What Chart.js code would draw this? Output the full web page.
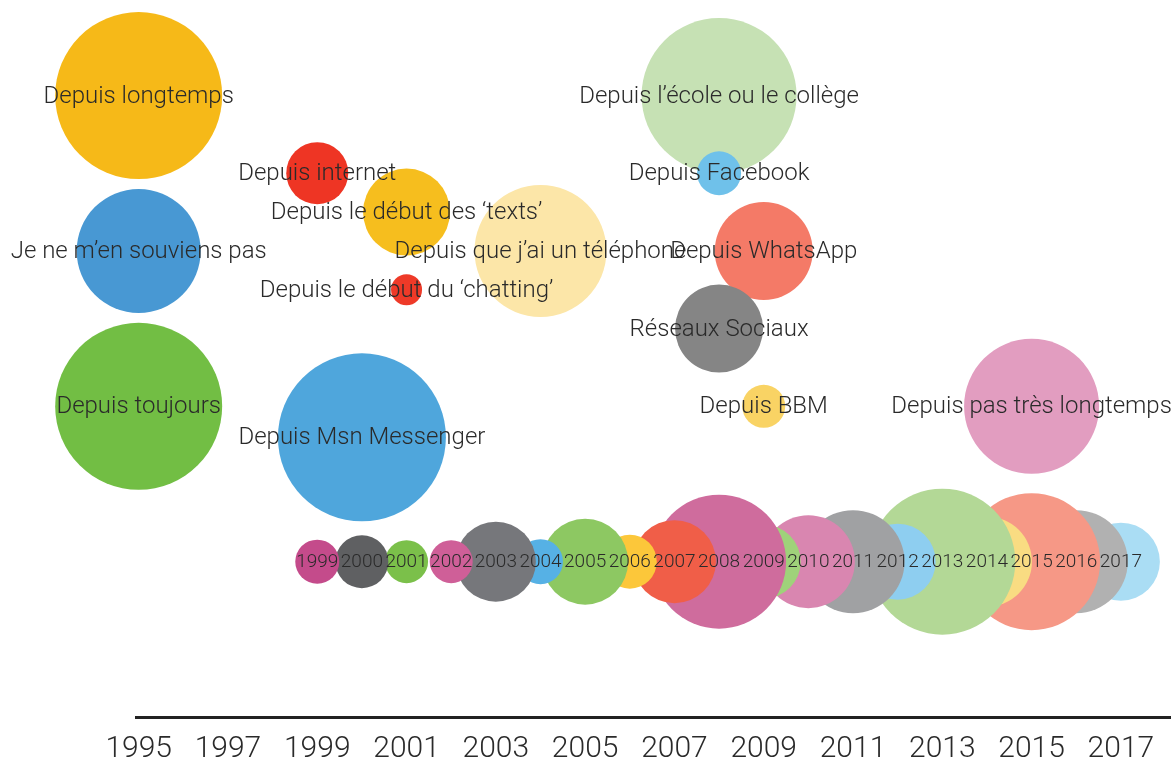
<!DOCTYPE html>
<html>
<head>
<meta charset="utf-8">
<script src="https://cdn.jsdelivr.net/npm/chart.js@4"></script>
<style>
  html, body { margin: 0; padding: 0; background: #fff; }
  #wrap { width: 1176px; height: 767px; }
</style>
</head>
<body>
<div id="wrap"><canvas id="bubbleChart"></canvas></div>
<script>
// axis ticks
let tickYears = [1995, 1997, 1999, 2001, 2003, 2005, 2007, 2009, 2011, 2013, 2015, 2017];

// row of year bubbles
let years = [1999, 2000, 2001, 2002, 2003, 2004, 2005, 2006, 2007, 2008, 2009, 2010, 2011, 2012, 2013, 2014, 2015, 2016, 2017];
let yearSizes = [22, 26.5, 21.5, 21.5, 40, 22.5, 43, 27, 41.5, 67, 37, 46.5, 51.5, 38, 73, 45, 68.5, 51.5, 39];
let yearRow = 2;

// answers ("depuis quand ?")
let answers = [
    'Depuis longtemps', 'Je ne m’en souviens pas', 'Depuis toujours',
    'Depuis internet', 'Depuis le début des ‘texts’', 'Depuis le début du ‘chatting’',
    'Depuis que j’ai un téléphone', 'Depuis Msn Messenger',
    'Depuis l’école ou le collège', 'Depuis Facebook', 'Depuis WhatsApp',
    'Réseaux Sociaux', 'Depuis BBM', 'Depuis pas très longtemps'
];
let answerYears = [1995, 1995, 1995, 1999, 2001, 2001, 2004, 2000, 2008, 2008, 2009, 2008, 2009, 2015];
let answerLevels = [8, 6, 4, 7, 6.5, 5.5, 6, 3.6, 8, 7, 6, 5, 4, 4];
let answerSizes = [83.5, 62, 83.5, 31, 43.5, 15.5, 66, 84, 77.5, 22, 49, 44, 21.5, 67.5];

// colours
let answerColors = [
    '#F6B918', '#4898D3', '#72BE44', '#EE3524', '#F6BE1E', '#EE3A28', '#FCE6A8',
    '#4FA6DC', '#C6E1B4', '#6FC1EA', '#F47A67', '#858585', '#F9D364', '#E29DC0'
];
let yearColors = [
    '#C44B8B', '#5F6062', '#7BC04A', '#CF5F98', '#76777B', '#56B1E5', '#8DC862',
    '#FCC73A', '#F05E48', '#CF6C9D', '#9FD27A', '#D986B0', '#A0A1A3', '#8ECEF0',
    '#B3D896', '#F9DC82', '#F69886', '#B1B1B1', '#AADDF4'
];

// year bubbles: later years are drawn underneath earlier ones
let yearPoints = years.map((y, i) => ({ x: y, y: yearRow, r: yearSizes[i], label: String(y), color: yearColors[i] })).reverse();
let answerPoints = answers.map((a, i) => ({ x: answerYears[i], y: answerLevels[i], r: answerSizes[i], label: a, color: answerColors[i] }));

// draws the text in the middle of each bubble
const bubbleText = {
    id: 'bubbleText',
    afterDatasetsDraw(chart) {
        let ctx = chart.ctx;
        ctx.save();
        ctx.fillStyle = '#2a2a2a';
        ctx.textAlign = 'center';
        ctx.textBaseline = 'middle';
        chart.data.datasets.forEach((ds, di) => {
            ctx.font = ds.textFont;
            chart.getDatasetMeta(di).data.forEach((el, i) => {
                ctx.fillText(ds.data[i].label, el.x, el.y + 1);
            });
        });
        ctx.restore();
    }
};

let ctx = document.getElementById('bubbleChart').getContext('2d');

new Chart(ctx, {
    type: 'bubble',
    data: {
        datasets: [
            {
                data: yearPoints,
                backgroundColor: yearPoints.map(p => p.color),
                borderWidth: 0,
                hoverBorderWidth: 0,
                clip: false,
                textFont: '300 19px Roboto'
            },
            {
                data: answerPoints,
                backgroundColor: answerPoints.map(p => p.color),
                borderWidth: 0,
                hoverBorderWidth: 0,
                clip: false,
                textFont: '300 24px Roboto'
            }
        ]
    },
    options: {
        responsive: true,
        maintainAspectRatio: false,
        animation: false,
        events: [],
        layout: { autoPadding: false, padding: { left: 136, right: 6, top: 0, bottom: 0 } },
        plugins: {
            legend: { display: false },
            tooltip: { enabled: false }
        },
        scales: {
            x: {
                type: 'linear',
                position: 'bottom',
                min: 1994.94,
                max: 2018.1,
                afterBuildTicks: s => { s.ticks = tickYears.map(v => ({ value: v })); },
                afterFit: s => { s.height = 50; },
                grid: { display: false, drawTicks: false },
                border: { display: true, color: '#222', width: 3 },
                ticks: {
                    padding: 14,
                    color: '#2a2a2a',
                    maxRotation: 0,
                    autoSkip: false,
                    font: { family: 'Roboto', size: 30, weight: 300 },
                    callback: v => String(v)
                }
            },
            y: {
                display: false,
                min: 0,
                max: 9.23
            }
        }
    },
    plugins: [bubbleText]
});
</script>
</body>
</html>
